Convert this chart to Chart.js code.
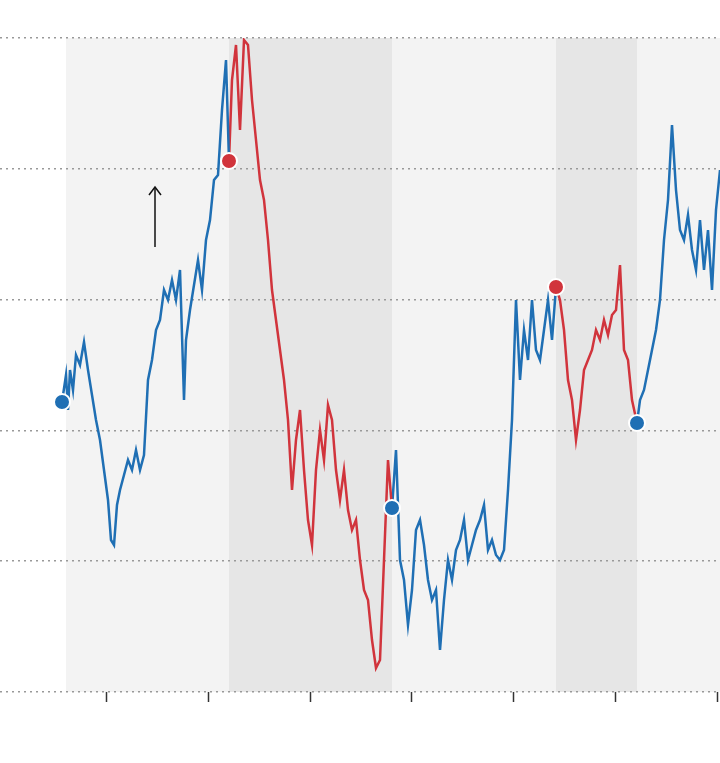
<!DOCTYPE html>
<html><head><meta charset="utf-8">
<script src="https://cdn.jsdelivr.net/npm/chart.js@4"></script>
<style>html,body{margin:0;background:#fff}#wrap{width:720px;height:763px}</style>
</head><body><div id="wrap"><canvas id="c"></canvas></div>
<script>
// x in days from start of window, y as level above baseline
const seg1X = [62,66,68,70,73,76,80,84,88,92,96,100,104,108,111,114,117,120,124,128,132,136,140,144,148,152,156,160,164,168,172,176,180,184,186,190,194,198,202,206,210,214,218,222,226,229]
const seg1Y = [290,317,282,322,302,337,327,350,322,297,272,252,222,192,152,147,187,202,217,232,222,242,222,237,312,332,362,372,402,392,412,392,422,292,352,382,407,432,402,452,472,512,517,582,632,531]
const seg2X = [229,232,236,240,244,248,252,256,260,264,268,272,276,280,284,288,292,296,300,304,308,312,316,320,324,328,332,336,340,344,348,352,356,360,364,368,372,376,380,384,388,392]
const seg2Y = [531,612,647,562,652,647,592,552,512,492,452,402,372,342,312,272,202,252,282,222,172,147,222,262,232,287,272,222,192,222,182,162,172,132,102,92,52,24,32,132,232,184]
const seg3X = [392,396,400,404,408,412,416,420,424,428,432,436,440,444,448,452,456,460,464,468,472,476,480,484,488,492,496,500,504,508,512,516,520,524,528,532,536,540,544,548,552,556]
const seg3Y = [184,242,132,112,67,102,162,172,147,112,92,102,42,92,132,112,142,152,172,132,147,162,172,187,142,152,137,132,142,202,272,392,312,362,332,392,342,332,362,392,352,405]
const seg4X = [556,560,564,568,572,576,580,584,588,592,596,600,604,608,612,616,620,624,628,632,637]
const seg4Y = [405,392,362,312,292,252,282,322,332,342,362,352,372,357,377,382,427,342,332,292,269]
const seg5X = [637,640,644,648,652,656,660,664,668,672,676,680,684,688,692,696,700,704,708,712,716,720]
const seg5Y = [269,292,302,322,342,362,392,452,492,567,502,462,452,477,442,422,472,422,462,402,482,522]
const bandEdges = [66,229,392,556,637,720]
const bandShade = ['#f3f3f3','#e6e6e6','#f3f3f3','#e6e6e6','#f3f3f3']
const xTicks = [106,208,310,411,513,615,717]
const BLUE = '#1f6fb4', RED = '#d1343c'

const toPts = (xs, ys) => xs.map((x, i) => ({ x, y: ys[i] }))
const segs = [[seg1X,seg1Y,BLUE],[seg2X,seg2Y,RED],[seg3X,seg3Y,BLUE],[seg4X,seg4Y,RED],[seg5X,seg5Y,BLUE]]
const markerPts = segs.map(s => ({ x: s[0][0], y: s[1][0] }))
const markerCols = segs.map(s => s[2])

const bgPlugin = {
  id: 'bg',
  beforeDraw(chart) {
    const { ctx, chartArea: a, scales: { x } } = chart
    for (let i = 0; i < bandShade.length; i++) {
      const l = x.getPixelForValue(bandEdges[i]), r = x.getPixelForValue(bandEdges[i + 1])
      ctx.fillStyle = bandShade[i]
      ctx.fillRect(l, a.top, r - l, a.bottom - a.top)
    }
  },
  afterDraw(chart) {
    const { ctx, chartArea: a, scales: { x, y } } = chart
    ctx.save()
    ctx.strokeStyle = '#333'; ctx.lineWidth = 1.5
    xTicks.forEach(t => {
      const px = Math.round(x.getPixelForValue(t)) + 0.5
      ctx.beginPath(); ctx.moveTo(px, a.bottom); ctx.lineTo(px, a.bottom + 10); ctx.stroke()
    })
    // arrow
    const ax = x.getPixelForValue(155), y0 = y.getPixelForValue(445), y1 = y.getPixelForValue(505)
    ctx.strokeStyle = '#111'; ctx.lineWidth = 1.5
    ctx.beginPath(); ctx.moveTo(ax, y0); ctx.lineTo(ax, y1); ctx.stroke()
    ctx.beginPath(); ctx.moveTo(ax - 6, y1 + 8); ctx.lineTo(ax, y1); ctx.lineTo(ax + 6, y1 + 8); ctx.stroke()
    ctx.restore()
  }
}

new Chart(document.getElementById('c'), {
  type: 'line',
  data: {
    datasets: [
      ...segs.map(s => ({ data: toPts(s[0], s[1]), borderColor: s[2], borderWidth: 2.5, pointRadius: 0, tension: 0, order: 1 })),
      { type: 'scatter', data: markerPts, backgroundColor: markerCols, borderColor: '#fff', borderWidth: 2, pointRadius: 8, order: -1 }
    ]
  },
  options: {
    responsive: true, maintainAspectRatio: false, animation: false,
    layout: { autoPadding: false, padding: { top: 38, bottom: 71, left: 0, right: 0 } },
    plugins: { legend: { display: false }, tooltip: { enabled: false } },
    scales: {
      x: { type: 'linear', min: 0, max: 720, display: false },
      y: {
        min: 0, max: 654,
        afterBuildTicks: s => { s.ticks = [0,1,2,3,4,5].map(i => ({ value: i * 130.8 })) },
        afterFit: s => { s.width = 0 },
        ticks: { display: false, padding: 0 },
        border: { display: false, dash: [2, 4] },
        grid: { color: '#999', lineWidth: 1.5, drawTicks: false, tickLength: 0 }
      }
    }
  },
  plugins: [bgPlugin]
})
</script></body></html>
